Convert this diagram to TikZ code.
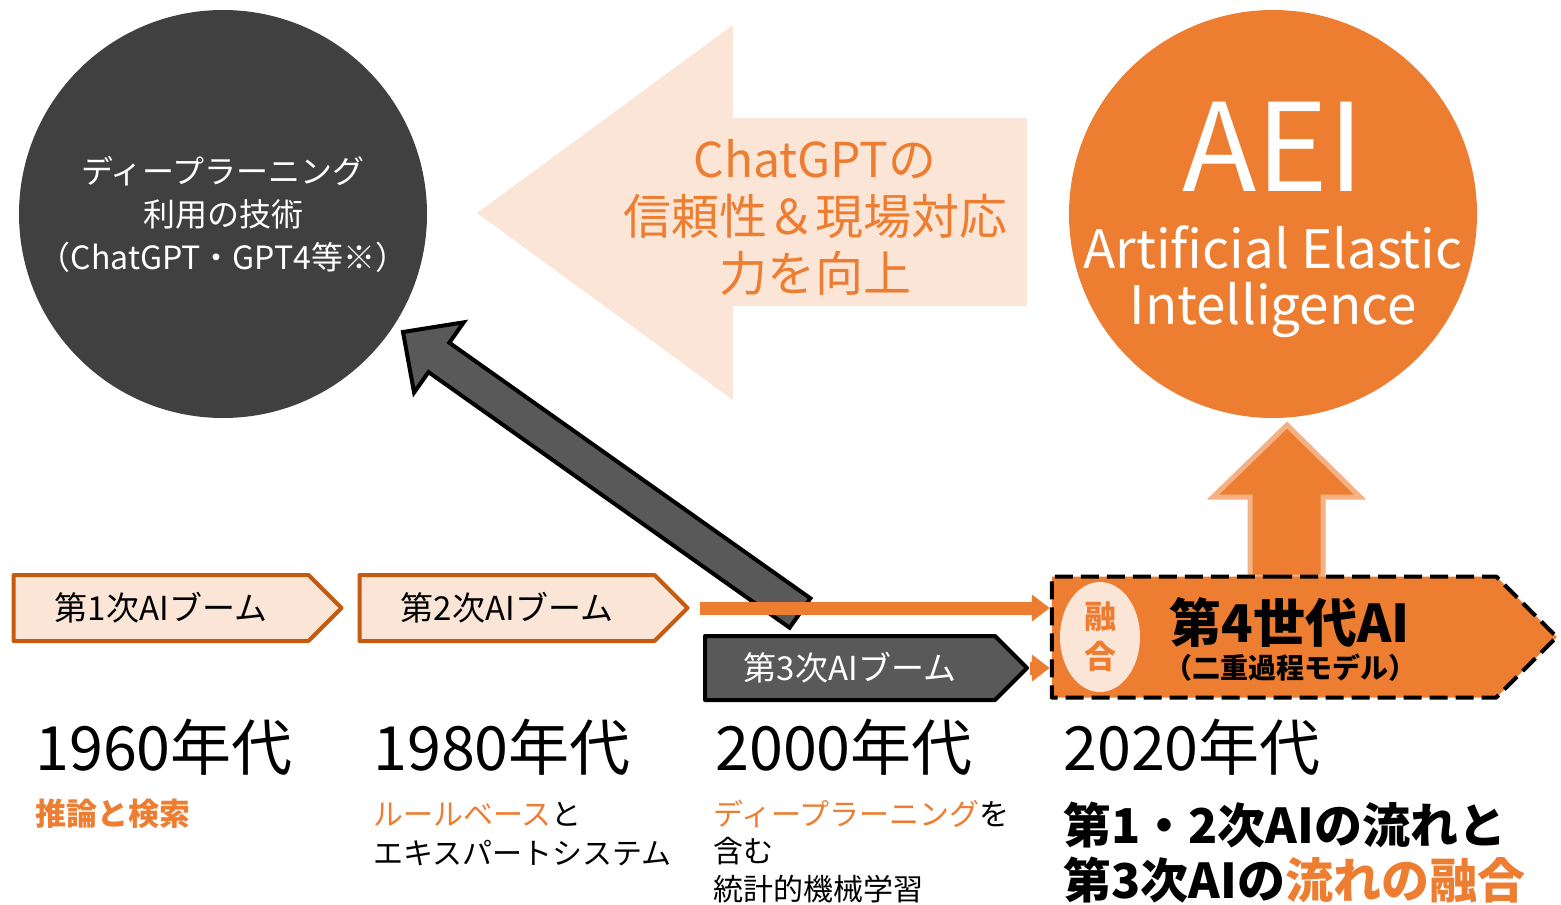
\documentclass[tikz,border=0pt]{standalone}
\usepackage{fontspec}
\setmainfont{Noto Sans CJK JP}
\usetikzlibrary{arrows.meta,calc,shapes.symbols,shapes.geometric}
\definecolor{aeiorange}{HTML}{ED7D31}
\definecolor{peach}{HTML}{FBE5D6}
\definecolor{boomedge}{HTML}{C55A11}
\definecolor{darkcirc}{HTML}{404040}
\definecolor{arrowgray}{HTML}{595959}
\definecolor{lightorange}{HTML}{F4B183}
\tikzset{
  boom/.style={signal,signal to=east,signal pointer angle=90,minimum width=164pt,minimum height=33pt,inner sep=0pt,line width=2pt,font=\fontsize{16.5}{18}\selectfont},
  decade/.style={anchor=base west,inner sep=0pt,font=\fontsize{30.5}{32}\selectfont},
  note/.style={anchor=base west,inner sep=0pt,font=\fontsize{15}{17}\selectfont},
  bignote/.style={anchor=base west,inner sep=0pt,font=\bfseries\fontsize{24}{26}\selectfont},
  orangeline/.style={draw=aeiorange,line width=6.5pt,-{Triangle[length=9pt,width=13pt]}}
}
\begin{document}
\begin{tikzpicture}[line join=round,x=0.5pt,y=-0.5pt]
\useasboundingbox (0,0) rectangle (1561,904);
\fill[color=peach] (477,213) -- (733,25) -- (733,118) -- (1027,118) -- (1027,306) -- (733,306) -- (733,400) -- cycle;
\node[text=aeiorange,align=center,font=\fontsize{24}{28.5}\selectfont] (gain) at (815,217) {ChatGPTの\\信頼性＆現場対応\\力を向上};
\node[circle,fill=darkcirc,minimum size=204pt,inner sep=0pt,text=white,align=center,font=\fontsize{16}{21.5}\selectfont] (deep) at (223,214) {ディープラーニング\\利用の技術\\（ChatGPT・GPT4等※）};
\node[circle,fill=aeiorange,minimum size=204pt,inner sep=0pt] (aei) at (1273,214) {};
\node[text=white,inner sep=0pt,font=\fontsize{61}{61}\selectfont] (aeiname) at (1273,147) {AEI};
\node[text=white,align=center,inner sep=0pt,font=\fontsize{26.5}{28}\selectfont] (aeifull) at (1273,282) {Artificial Elastic\\Intelligence};
\draw[fill=aeiorange,draw=lightorange,line width=2.5pt,line join=miter] (1250,577) -- (1250,497) -- (1213,497) -- (1287,425) -- (1360,497) -- (1323,497) -- (1323,577) -- cycle;
\node[boom,fill=peach,draw=boomedge] (b1) at (161,608) {第1次AIブーム};
\node[boom,fill=peach,draw=boomedge] (b2) at (507,608) {第2次AIブーム};
\node[boom,fill=arrowgray,draw=black,text=white,minimum width=161pt,minimum height=32pt] (b3) at (850,668) {第3次AIブーム};
\coordinate (tail) at (800,613);
\coordinate (tip) at (403,332);
\coordinate (neck) at ($(tip)!22pt!(tail)$);
\draw[fill=arrowgray,draw=black,line width=2pt,line join=miter] ($(tail)!9pt!90:(tip)$) -- ($(neck)!9pt!90:(tip)$) -- ($(neck)!21.5pt!90:(tip)$) -- (tip) -- ($(neck)!21.5pt!-90:(tip)$) -- ($(neck)!9pt!-90:(tip)$) -- ($(tail)!9pt!-90:(tip)$) -- cycle;
\node[signal,signal to=east,signal pointer angle=90,fill=aeiorange,draw=black,line width=2pt,dash pattern=on 9pt off 4pt,minimum width=252.5pt,minimum height=60.5pt] (b4) at (1274,637) {};
\node[ellipse,fill=peach,minimum width=40pt,minimum height=55pt,inner sep=0pt,text=aeiorange,align=center,font=\bfseries\fontsize{16}{20}\selectfont] (fuse) at (1100,637) {融\\合};
\node[inner sep=0pt,font=\bfseries\fontsize{26}{28}\selectfont] (gen4) at (1290,622) {第4世代AI};
\node[inner sep=0pt,font=\bfseries\fontsize{14}{16}\selectfont] (dual) at (1290,668) {（二重過程モデル）};
\draw[orangeline] ([xshift=5pt]b2.east) -- (b4.west |- b2.east);
\draw[orangeline] (b3.east) -- (b4.west |- b3.east);
\foreach \x/\yr in {35/1960,373/1980,715/2000,1063/2020}
\node[decade] (d\yr) at (\x,770) {\yr{}年代};
\node[note,text=aeiorange,font=\bfseries\fontsize{15.5}{17}\selectfont] (s1) at (35,825) {推論と検索};
\node[note] (s2a) at (373,825) {\textcolor{aeiorange}{ルールベース}と};
\node[note] (s2b) at (373,864) {エキスパートシステム};
\node[note] (s3a) at (713,825) {\textcolor{aeiorange}{ディープラーニング}を};
\node[note] (s3b) at (713,862) {含む};
\node[note] (s3c) at (713,900) {統計的機械学習};
\node[bignote] (s4a) at (1063,843) {第1・2次AIの流れと};
\node[bignote] (s4b) at (1063,898) {第3次AIの\textcolor{aeiorange}{流れの融合}};
\end{tikzpicture}
\end{document}
